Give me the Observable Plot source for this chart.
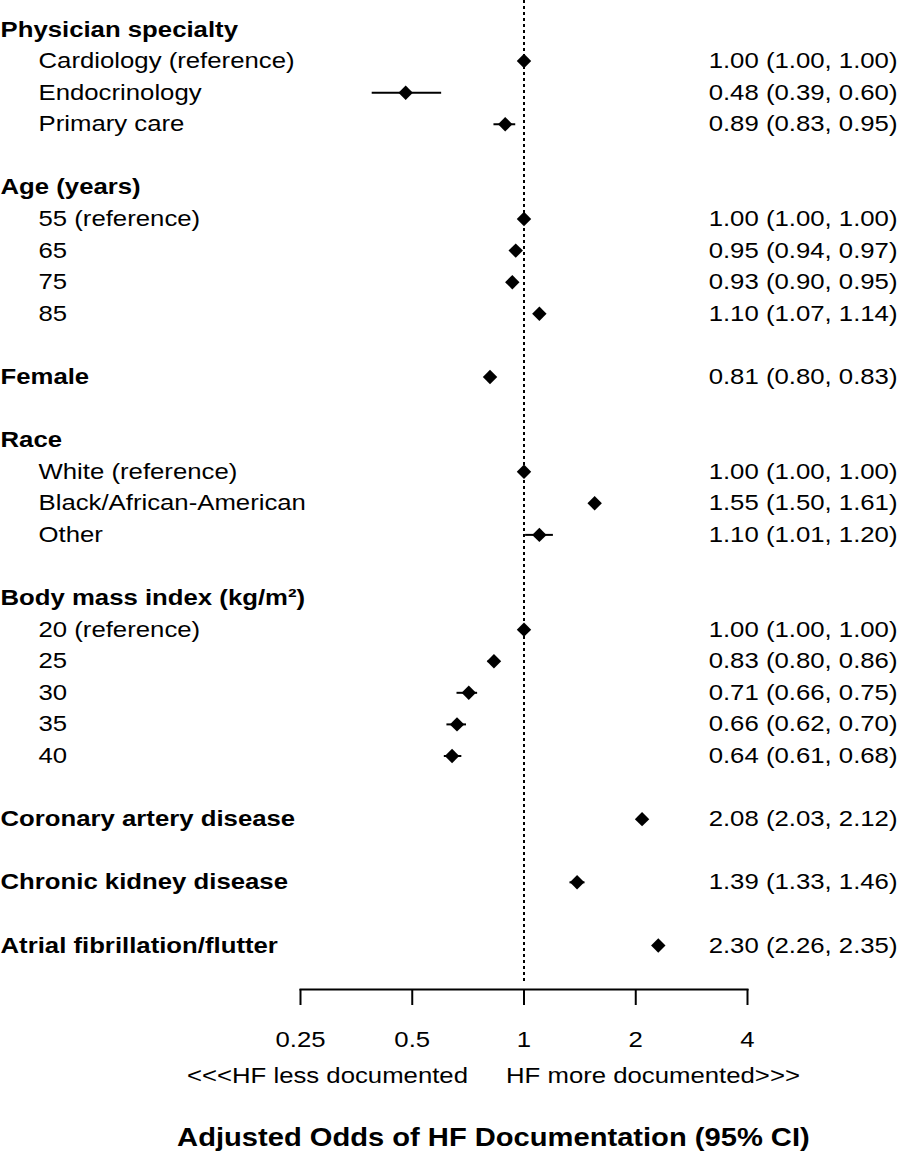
<!DOCTYPE html>
<html><head><meta charset="utf-8">
<script src="https://cdn.jsdelivr.net/npm/d3@7"></script>
<script src="https://cdn.jsdelivr.net/npm/@observablehq/plot@0.6"></script>
<style>
body{margin:0;background:#fff;font-family:"Liberation Sans",Arial,sans-serif;}
#title{width:986px;text-align:center;font-weight:bold;font-size:26px;line-height:30px;padding-top:17px;color:#000;}
#title span{display:inline-block;transform:scaleX(1.12);}
</style></head>
<body><div id="chart"></div><div id="title"><span>Adjusted Odds of HF Documentation (95% CI)</span></div>
<script>
const labels = ["Physician specialty","Cardiology (reference)","Endocrinology","Primary care",
  "Age (years)","55 (reference)","65","75","85","Female",
  "Race","White (reference)","Black/African-American","Other",
  "Body mass index (kg/m²)","20 (reference)","25","30","35","40",
  "Coronary artery disease","Chronic kidney disease","Atrial fibrillation/flutter"];
const rows = [0,1,2,3, 5,6,7,8,9, 11, 13,14,15,16, 18,19,20,21,22,23, 25,27,29];
const bold = [1,0,0,0, 1,0,0,0,0, 1, 1,0,0,0, 1,0,0,0,0,0, 1,1,1];
const oddsRatio = [null,1.00,0.48,0.89, null,1.00,0.95,0.93,1.10, 0.81, null,1.00,1.55,1.10, null,1.00,0.83,0.71,0.66,0.64, 2.08,1.39,2.30];
const ciLow = [null,1.00,0.39,0.83, null,1.00,0.94,0.90,1.07, 0.80, null,1.00,1.50,1.01, null,1.00,0.80,0.66,0.62,0.61, 2.03,1.33,2.26];
const ciHigh = [null,1.00,0.60,0.95, null,1.00,0.97,0.95,1.14, 0.83, null,1.00,1.61,1.20, null,1.00,0.86,0.75,0.70,0.68, 2.12,1.46,2.35];
const tickValues = [0.25,0.5,1,2,4];
const tickLabels = ["0.25","0.5","1","2","4"];
const refOdds = 1;
const directionLabels = ["<<<HF less documented","HF more documented>>>"];

const data = labels.map((label,i)=>({label,row:rows[i],bold:!!bold[i],or:oddsRatio[i],lo:ciLow[i],hi:ciHigh[i]}));
const est = data.filter(d=>d.or!=null);
const fmt = d3.format(".2f");

const W = 898, H = 1105, frameBottom = 989;
const chart = Plot.plot({
  width: W, height: H,
  marginLeft: 300, marginRight: 151, marginTop: 0, marginBottom: H - frameBottom,
  style: {fontSize:"22px", fontFamily:"'Liberation Sans', Arial, sans-serif", color:"#000", background:"#fff", overflow:"visible"},
  x: {type:"log", domain:[0.25,4]},
  y: {domain:[0,29], range:[29,945], axis:null},
  marks: [
    Plot.ruleX([refOdds], {stroke:"#000", strokeWidth:2, strokeDasharray:"3,3", insetBottom:6}),
    Plot.ruleY(est, {y:"row", x1:"lo", x2:"hi", stroke:"#000", strokeWidth:2}),
    Plot.dot(est, {x:"or", y:"row", symbol:"diamond2", r:6.5, fill:"#000", stroke:"none"}),
    Plot.text(data.filter(d=>d.bold), {y:"row", text:"label", frameAnchor:"left", dx:-300, textAnchor:"start", fontWeight:"bold", fill:"#000"}),
    Plot.text(data.filter(d=>!d.bold), {y:"row", text:"label", frameAnchor:"left", dx:-262, textAnchor:"start", fill:"#000"}),
    Plot.text(est, {y:"row", text:d=>`${fmt(d.or)} (${fmt(d.lo)}, ${fmt(d.hi)})`, frameAnchor:"right", dx:150, textAnchor:"end", fill:"#000"}),
    Plot.frame({anchor:"bottom", stroke:"#000", strokeWidth:2}),
    Plot.axisX({ticks:tickValues, tickFormat:(d)=>tickLabels[tickValues.indexOf(d)], tickSize:16, tickPadding:26, label:null, stroke:"#000", strokeWidth:2, fill:"#000", fontSize:22}),
    Plot.text([directionLabels[0]], {x:()=>refOdds, text:d=>d, frameAnchor:"bottom", dy:93, dx:-56, textAnchor:"end", fill:"#000"}),
    Plot.text([directionLabels[1]], {x:()=>refOdds, text:d=>d, frameAnchor:"bottom", dy:93, dx:-18, textAnchor:"start", fill:"#000"})
  ]
});
// widen glyphs horizontally to match the reference's stretched type
d3.select(chart).selectAll("text").each(function(){
  const t = this.getAttribute("transform");
  if (t) this.setAttribute("transform", t + " scale(1.17,1)");
});
document.getElementById("chart").appendChild(chart);
</script>
</body></html>
